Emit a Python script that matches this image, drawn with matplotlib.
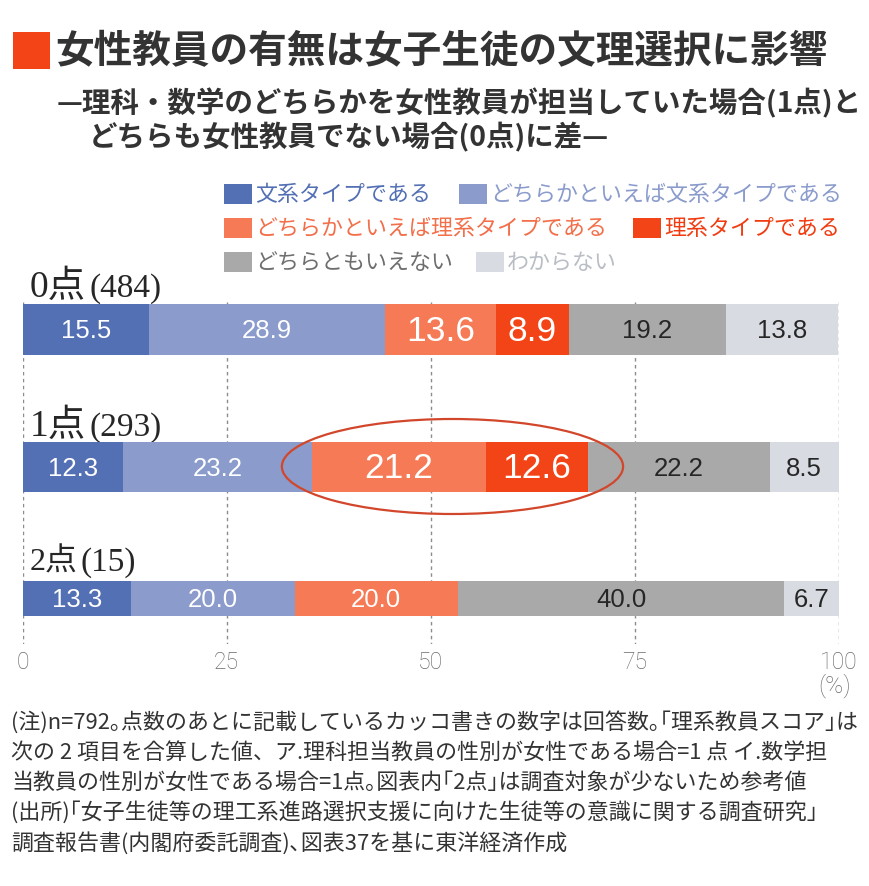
import matplotlib
matplotlib.use('Agg')
import matplotlib.pyplot as plt
from matplotlib.patches import Ellipse, Rectangle
import numpy as np

# ---------------- data ----------------
groups = ['0点', '1点', '2点']
counts = ['(484)', '(293)', '(15)']
categories = ['文系タイプである', 'どちらかといえば文系タイプである',
              'どちらかといえば理系タイプである', '理系タイプである',
              'どちらともいえない', 'わからない']
bunkei = [15.5, 12.3, 13.3]
yaya_bunkei = [28.9, 23.2, 20.0]
yaya_rikei = [13.6, 21.2, 20.0]
rikei = [8.9, 12.6, 0.0]
dochiramo = [19.2, 22.2, 40.0]
wakaranai = [13.8, 8.5, 6.7]
xticks = [0, 25, 50, 75, 100]

title = '女性教員の有無は女子生徒の文理選択に影響'
subtitle1 = '—理科・数学のどちらかを女性教員が担当していた場合(1点)と'
subtitle2 = 'どちらも女性教員でない場合(0点)に差—'
notes = [
    '(注)n=792｡点数のあとに記載しているカッコ書きの数字は回答数｡｢理系教員スコア｣は',
    '次の 2 項目を合算した値、ア.理科担当教員の性別が女性である場合=1 点 イ.数学担',
    '当教員の性別が女性である場合=1点｡図表内｢2点｣は調査対象が少ないため参考値',
    '(出所)｢女子生徒等の理工系進路選択支援に向けた生徒等の意識に関する調査研究｣',
    '調査報告書(内閣府委託調査)､図表37を基に東洋経済作成',
]

# ---------------- style ----------------
colors = ['#5470b4', '#8a9bcc', '#f57a55', '#f24416', '#a9a9a9', '#d8dce2']
legend_text_colors = ['#5470b4', '#8a9bcc', '#f26f4a', '#f03c10', '#6e6e6e', '#b9bdc4']
label_colors = ['white', 'white', 'white', 'white', '#262626', '#262626']
JP = ['Noto Sans CJK JP', 'DejaVu Sans']
SERIF = ['Liberation Serif', 'Noto Sans CJK JP']
NUM = ['Liberation Sans', 'DejaVu Sans']

W, H = 870, 887
fig = plt.figure(figsize=(W / 100, H / 100), dpi=100)
fig.patch.set_facecolor('white')

# overlay in pixel coordinates
ov = fig.add_axes([0, 0, 1, 1])
ov.set_xlim(0, W)
ov.set_ylim(H, 0)
ov.axis('off')

# bar axes: x in percent, y in pixel units
x0, x1 = 22.7, 839.0
y_top, y_bot = 300.0, 645.0
ax = fig.add_axes([x0 / W, 1 - y_bot / H, (x1 - x0) / W, (y_bot - y_top) / H])
ax.set_xlim(0, 100)
ax.set_ylim(y_bot, y_top)
ax.patch.set_visible(False)
for s in ax.spines.values():
    s.set_visible(False)

# grid
ax.vlines(xticks, 303, 645, colors='#8c8c8c', linestyles=(0, (2.5, 2.5)),
          linewidth=1.0, zorder=0)

series = [bunkei, yaya_bunkei, yaya_rikei, rikei, dochiramo, wakaranai]
bar_y = [330.5, 468.0, 599.5]
bar_h = [51, 50, 35]
left = np.zeros(len(groups))
for ci, vals in enumerate(series):
    vals = np.array(vals)
    ax.barh(bar_y, vals, left=left, height=bar_h, color=colors[ci],
            linewidth=0, zorder=2)
    for gi, v in enumerate(vals):
        if v <= 0:
            continue
        big = (ci in (2, 3)) and gi in (0, 1)
        ax.text(left[gi] + v / 2, bar_y[gi] + 1, f'{v:.1f}',
                ha='center', va='center', color=label_colors[ci],
                fontsize=25.5 if big else 18.5, family=NUM, zorder=3)
    left += vals

# highlight ellipse around 1点 rikei segments
ax.add_patch(Ellipse((52.65, 467.5), 41.8, 95, fill=False,
                     edgecolor='#d2472b', linewidth=1.6, zorder=4, clip_on=False))

# ticks
ax.set_xticks(xticks)
ax.set_xticklabels([str(t) for t in xticks], fontsize=16.5, color='#6a6a6a',
                   family=['Roboto', 'DejaVu Sans'], fontweight='light')
ax.tick_params(axis='x', length=0, pad=4)
ax.set_yticks([])
ax.text(99.5, 686, '(%)', ha='center', va='center', fontsize=17.5,
        color='#6a6a6a', family=['Roboto', 'DejaVu Sans'], fontweight='light',
        clip_on=False)

# ---------------- title ----------------
ov.add_patch(Rectangle((13, 33), 37, 37, color='#f24416', linewidth=0))
ov.text(55, 52, title, fontsize=27.8, fontweight='bold', color='#333333',
        family=JP, ha='left', va='center')
ov.text(57, 103, subtitle1, fontsize=20.5, fontweight='bold', color='#333333',
        family=JP, ha='left', va='center')
ov.text(89, 137, subtitle2, fontsize=20.5, fontweight='bold', color='#333333',
        family=JP, ha='left', va='center')

# ---------------- legend ----------------
leg_rows = [[(0, 224), (1, 459)], [(2, 224), (3, 633)], [(4, 224), (5, 476)]]
leg_y = [195, 229, 263]
for row, yc in zip(leg_rows, leg_y):
    for ci, xl in row:
        ov.add_patch(Rectangle((xl, yc - 10), 28, 20, color=colors[ci], linewidth=0))
        ov.text(xl + 31, yc, categories[ci], fontsize=15.8, color=legend_text_colors[ci],
                family=JP, ha='left', va='center')

# ---------------- row labels ----------------
fig.canvas.draw()
renderer = fig.canvas.get_renderer()
label_base = [297, 436, 571]
main_size = [27, 27, 23]
sub_size = [24, 24, 24]
for gi in range(len(groups)):
    t = ov.text(30, label_base[gi], groups[gi], fontsize=main_size[gi], color='#262626',
                family=SERIF, ha='left', va='baseline')
    bb = t.get_window_extent(renderer=renderer)
    ov.text(bb.x1 + 3, label_base[gi], counts[gi], fontsize=sub_size[gi], color='#262626',
            family=SERIF, ha='left', va='baseline')

# ---------------- notes ----------------
for i, line in enumerate(notes):
    ov.text(11, 722 + i * 30.3, line, fontsize=15.8, color='#333333', family=JP,
            ha='left', va='center')

fig.savefig('out.png', dpi=100, facecolor='white')
